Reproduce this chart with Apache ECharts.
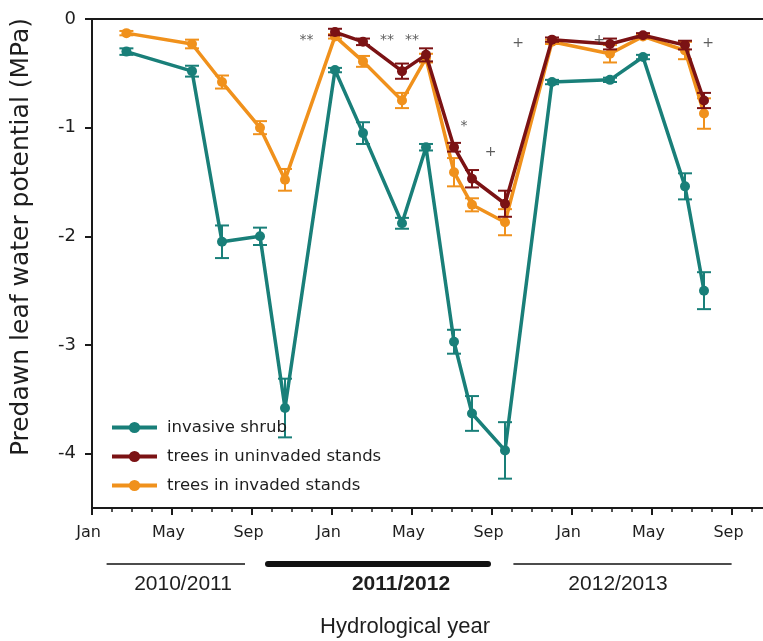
<!DOCTYPE html>
<html><head><meta charset="utf-8">
<script src="https://cdn.jsdelivr.net/npm/echarts@6/dist/echarts.min.js"></script>
<style>html,body{margin:0;padding:0;background:#fff}#c{width:763px;height:641px}</style>
</head><body><div id="c"></div>
<script>
// x values: months elapsed since 1 Jan 2011
const sampleMonths    = [1.72, 5.0, 6.5, 8.4, 9.65, 12.15, 13.55, 15.5, 16.7, 18.1, 19.0, 20.65, 23.0, 25.9, 27.55, 29.65, 30.6];
const shrubValues     = [-0.30, -0.48, -2.05, -2.00, -3.58, -0.47, -1.05, -1.88, -1.18, -2.97, -3.63, -3.97, -0.58, -0.56, -0.35, -1.54, -2.50];
const shrubErrors     = [0.03, 0.05, 0.15, 0.08, 0.27, 0.02, 0.10, 0.05, 0.03, 0.11, 0.16, 0.26, 0.02, 0.02, 0.02, 0.12, 0.17];
const uninvadedValues = [null, null, null, null, null, -0.12, -0.21, -0.48, -0.33, -1.18, -1.47, -1.70, -0.19, -0.23, -0.15, -0.24, -0.75];
const uninvadedErrors = [null, null, null, null, null, 0.03, 0.03, 0.07, 0.06, 0.04, 0.08, 0.12, 0.02, 0.05, 0.02, 0.04, 0.07];
const invadedValues   = [-0.13, -0.23, -0.58, -1.00, -1.48, -0.16, -0.39, -0.75, -0.36, -1.41, -1.71, -1.87, -0.21, -0.32, -0.16, -0.29, -0.87];
const invadedErrors   = [0.02, 0.04, 0.06, 0.06, 0.10, 0.02, 0.05, 0.07, 0.04, 0.13, 0.06, 0.12, 0.02, 0.08, 0.02, 0.08, 0.14];

const seriesNames = ['invasive shrub', 'trees in uninvaded stands', 'trees in invaded stands'];
const monthNames = ['Jan', 'May', 'Sep'];
const yTicks = [0, -1, -2, -3, -4];

const sigLabels = ['**', '**', '**', '*', '+', '+', '+', '+'];
const sigMonths = [10.73, 14.75, 16.0, 18.6, 19.93, 21.3, 25.35, 30.8];
const sigValues = [-0.2, -0.2, -0.2, -0.99, -1.23, -0.22, -0.2, -0.22];

const yearLabels    = ['2010/2011', '2011/2012', '2012/2013'];
const yearLabelX    = [4.55, 15.45, 26.3];
const yearLineStart = [0.73, 8.8, 21.07];
const yearLineEnd   = [7.65, 19.8, 31.98];
const yearBold      = [false, true, false];

const colors = ['#197f79', '#7b1214', '#f0911c'];
const FONT = 'DejaVu Sans';

function pairs(vals) {
  const out = [];
  sampleMonths.forEach((m, i) => { if (vals[i] != null) out.push([m, vals[i]]); });
  return out;
}
function triples(vals, errs) {
  const out = [];
  sampleMonths.forEach((m, i) => { if (vals[i] != null) out.push([m, vals[i], errs[i]]); });
  return out;
}
function errSeries(id, vals, errs, color, z) {
  return {
    type: 'custom', name: id, z: z, silent: true, clip: true,
    renderItem(params, api) {
      const x = api.value(0), v = api.value(1), e = api.value(2);
      const t = api.coord([x, v + e]), b = api.coord([x, v - e]);
      const hw = 7;
      const st = { stroke: color, lineWidth: 2 };
      return { type: 'group', children: [
        { type: 'line', shape: { x1: t[0], y1: t[1], x2: b[0], y2: b[1] }, style: st },
        { type: 'line', shape: { x1: t[0] - hw, y1: t[1], x2: t[0] + hw, y2: t[1] }, style: st },
        { type: 'line', shape: { x1: b[0] - hw, y1: b[1], x2: b[0] + hw, y2: b[1] }, style: st }
      ]};
    },
    encode: { x: 0, y: 1 },
    data: triples(vals, errs)
  };
}
function lineSeries(name, vals, color, z) {
  return {
    type: 'line', name: name, z: z, data: pairs(vals),
    symbol: 'circle', symbolSize: 10, showSymbol: true,
    lineStyle: { width: 3.5, color: color }, itemStyle: { color: color }
  };
}

const chart = echarts.init(document.getElementById('c'), null, { renderer: 'canvas' });
const option = {
  animation: false,
  backgroundColor: '#fff',
  grid: { left: 92, top: 19, bottom: 133, right: -49, containLabel: false, outerBoundsMode: 'none' },
  xAxis: [{
    type: 'value', min: 0, max: 36, interval: 4, position: 'bottom',
    axisLine: { show: true, onZero: false, lineStyle: { color: '#1a1a1a', width: 2 } },
    axisTick: { show: true, length: 7, lineStyle: { color: '#1a1a1a', width: 2 } },
    minorTick: { show: true, splitNumber: 4, length: 4, lineStyle: { color: '#1a1a1a', width: 1.5 } },
    splitLine: { show: false },
    axisLabel: {
      margin: 17, color: '#1e1e1e', fontFamily: FONT, fontSize: 16, padding: [0, 7, 0, 0],
      formatter: v => (v % 4 === 0 && v <= 32 ? monthNames[(v / 4) % 3] : '')
    }
  }, {
    type: 'value', min: 0, max: 36, position: 'top',
    axisLine: { show: true, onZero: false, lineStyle: { color: '#1a1a1a', width: 2 } },
    axisTick: { show: false }, axisLabel: { show: false }, splitLine: { show: false }
  }],
  yAxis: {
    type: 'value', min: -4.5, max: 0, interval: 1,
    axisLine: { show: true, onZero: false, lineStyle: { color: '#1a1a1a', width: 2 } },
    axisTick: { show: true, length: 7, customValues: yTicks, lineStyle: { color: '#1a1a1a', width: 2 } },
    splitLine: { show: false },
    axisLabel: { customValues: yTicks, margin: 16, color: '#1e1e1e', fontFamily: FONT, fontSize: 18, formatter: v => String(v) }
  },
  legend: {
    data: seriesNames, orient: 'vertical', left: 105, top: 414,
    itemWidth: 45, itemHeight: 14, itemGap: 12,
    lineStyle: { width: 4 },
    textStyle: { fontFamily: FONT, fontSize: 16.5, color: '#1e1e1e', padding: [0, 0, 0, 5] }
  },
  series: [
    errSeries('err0', shrubValues, shrubErrors, colors[0], 2),
    lineSeries(seriesNames[0], shrubValues, colors[0], 3),
    errSeries('err2', invadedValues, invadedErrors, colors[2], 4),
    lineSeries(seriesNames[2], invadedValues, colors[2], 5),
    errSeries('err1', uninvadedValues, uninvadedErrors, colors[1], 6),
    lineSeries(seriesNames[1], uninvadedValues, colors[1], 7),
    {
      type: 'scatter', name: 'sig', z: 8, silent: true,
      symbolSize: 1, itemStyle: { color: 'transparent' },
      data: sigLabels.map((s, i) => ({ name: s, value: [sigMonths[i], sigValues[i]] })),
      label: { show: true, position: 'inside', formatter: p => p.name, color: '#333', fontFamily: FONT, fontSize: 14 }
    }
  ]
};
chart.setOption(option);

const graphics = [];
const yLine = 564, yText = 584;
yearLabels.forEach((lab, i) => {
  const x1 = chart.convertToPixel({ xAxisIndex: 0 }, yearLineStart[i]);
  const x2 = chart.convertToPixel({ xAxisIndex: 0 }, yearLineEnd[i]);
  const xc = chart.convertToPixel({ xAxisIndex: 0 }, yearLabelX[i]);
  graphics.push({ type: 'line', shape: { x1: x1, y1: yLine, x2: x2, y2: yLine },
    style: { stroke: '#111', lineWidth: yearBold[i] ? 6 : 1.5, lineCap: yearBold[i] ? 'round' : 'butt' } });
  graphics.push({ type: 'text', x: xc, y: yText,
    style: { text: lab, fill: '#1e1e1e', font: (yearBold[i] ? 'bold ' : '') + '21px "Liberation Sans", Arial, sans-serif', align: 'center', verticalAlign: 'middle' } });
});
graphics.push({ type: 'text', x: 405, y: 627,
  style: { text: 'Hydrological year', fill: '#1e1e1e', font: '22px "Liberation Sans", Arial, sans-serif', align: 'center', verticalAlign: 'middle' } });
graphics.push({ type: 'text', x: 21, y: 237, rotation: Math.PI / 2,
  style: { text: 'Predawn leaf water potential (MPa)', fill: '#1e1e1e', font: '25px "DejaVu Sans", sans-serif', align: 'center', verticalAlign: 'middle' } });
chart.setOption({ graphic: graphics });
</script></body></html>
